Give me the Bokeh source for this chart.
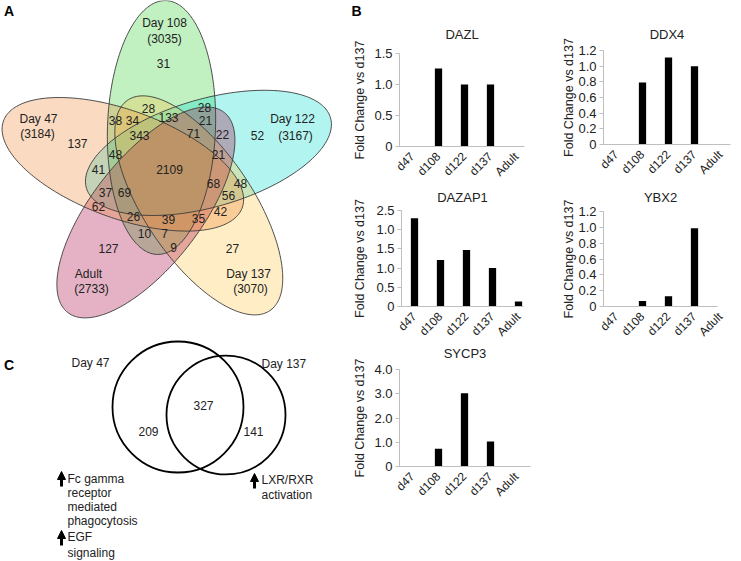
import math
import numpy as np
from bokeh.plotting import figure
from bokeh.layouts import row, column
from bokeh.models import Range1d, FixedTicker, NumeralTickFormatter, Arrow, NormalHead
from bokeh.embed import file_html
from bokeh.resources import INLINE
from bokeh.core.properties import value

FONT = "Liberation Sans"

# ---------------- data ----------------
# Panel A: five-set Venn. A=Day 47, B=Day 108, C=Day 122, D=Day 137, E=Adult
set_names = ["Day 47", "Day 108", "Day 122", "Day 137", "Adult"]
set_totals = [3184, 3035, 3167, 3070, 2733]
region_keys = ["A", "B", "C", "D", "E",
               "AB", "AC", "AD", "AE", "BC", "BD", "BE", "CD", "CE", "DE",
               "ABC", "ABD", "ABE", "ACD", "ACE", "ADE", "BCD", "BCE", "BDE", "CDE",
               "ABCD", "ABCE", "ABDE", "ACDE", "BCDE", "ABCDE"]
region_counts = [137, 31, 52, 27, 127,
                 38, 41, 42, 62, 28, 28, 10, 48, 22, 9,
                 48, 34, 26, 56, 37, 35, 133, 21, 7, 21,
                 343, 69, 39, 68, 71, 2109]

# Panel C: two-set Venn
venn2_names = ["Day 47", "Day 137"]
venn2_counts = [209, 327, 141]   # Day 47 only, both, Day 137 only
pathways_47 = [["Fc gamma", "receptor", "mediated", "phagocytosis"], ["EGF", "signaling"]]
pathways_137 = [["LXR/RXR", "activation"]]

# Panel B: fold change vs d137
stages = ["d47", "d108", "d122", "d137", "Adult"]
dazl = [0, 1.26, 1.0, 1.0, 0]
ddx4 = [0, 0.79, 1.11, 1.0, 0]
dazap1 = [2.3, 1.21, 1.47, 1.0, 0.13]
ybx2 = [0, 0.07, 0.13, 0.99, 0]
sycp3 = [0, 0.73, 3.02, 1.03, 0]
y_title = "Fold Change vs d137"

# ---------------- layout (pixel units) ----------------
VC = (167.0, 172.0)
V_OFF = (-6.0, -45.0)
V_A, V_B, V_TILT = 54.0, 127.0, 2.0
set_fill = ["#EE8633", "#32CD32", "#00DECD", "#FFC33E", "#A5003A"]
FILL_ALPHA = 0.3
draw_order = [1, 2, 3, 4, 0]   # Day 47 drawn last

region_pos = {
    "A": (77, 143), "B": (163, 63), "C": (257, 135), "D": (232, 248), "E": (108, 248),
    "AB": (115, 120), "AC": (98, 169), "AD": (220, 211), "AE": (98, 206), "BC": (204, 107),
    "BD": (148, 108), "BE": (144, 233), "CD": (240, 183), "CE": (222, 134), "DE": (173, 247),
    "ABC": (115, 154), "ABD": (132, 120), "ABE": (133, 216), "ACD": (228, 195), "ACE": (105, 192),
    "ADE": (198, 218), "BCD": (168, 117), "BCE": (205, 120), "BDE": (164, 233), "CDE": (218, 154),
    "ABCD": (139, 135), "ABCE": (124, 192), "ABDE": (168, 219), "ACDE": (213, 183), "BCDE": (193, 133),
    "ABCDE": (169, 169),
}
name_pos = [(38, 118), (164, 22), (292, 118), (248, 273), (88, 273)]
total_pos = [(37, 133), (164, 38), (295, 135), (250, 288), (91, 288)]


def rot(x, y, deg):
    t = math.radians(deg)
    return x * math.cos(t) - y * math.sin(t), x * math.sin(t) + y * math.cos(t)


W_VENN, H = 350, 561
venn = figure(width=W_VENN, height=H, x_range=Range1d(0, W_VENN), y_range=Range1d(H, 0),
              output_backend="svg", toolbar_location=None, min_border=0,
              x_axis_type=None, y_axis_type=None, outline_line_color=None)
venn.grid.visible = False

phi = np.linspace(0, 2 * math.pi, 240)
t = math.radians(V_TILT)
u0 = (math.sin(t), -math.cos(t))
v0 = (math.cos(t), math.sin(t))
shapes = []
for i in range(5):
    k = (i - 1) % 5
    ang = 72 * k
    ox, oy = rot(*V_OFF, ang)
    cx, cy = VC[0] + ox, VC[1] + oy
    ux, uy = rot(*u0, ang)
    vx, vy = rot(*v0, ang)
    xs = cx + V_B * np.cos(phi) * ux + V_A * np.sin(phi) * vx
    ys = cy + V_B * np.cos(phi) * uy + V_A * np.sin(phi) * vy
    shapes.append((xs, ys))
for i in draw_order:
    xs, ys = shapes[i]
    venn.patch(xs, ys, fill_color=set_fill[i], fill_alpha=FILL_ALPHA, line_color=None)
for xs, ys in shapes:
    venn.line(xs, ys, line_color="#3a3a3a", line_width=0.9)

txt = dict(text_font=value(FONT), text_font_size="12px", text_align="center",
           text_baseline="middle", text_color="#222222")
venn.text(x=[region_pos[k][0] for k in region_keys], y=[region_pos[k][1] for k in region_keys],
          text=[str(c) for c in region_counts], **txt)
venn.text(x=[p[0] for p in name_pos], y=[p[1] for p in name_pos], text=set_names, **txt)
venn.text(x=[p[0] for p in total_pos], y=[p[1] for p in total_pos],
          text=["(%d)" % v for v in set_totals], **txt)

letter = dict(text_font=value(FONT), text_font_size="14px", text_font_style="bold",
              text_align="center", text_baseline="middle", text_color="black")
venn.text(x=[8.5, 8.5], y=[10, 364], text=["A", "C"], **letter)

# Panel C circles
venn.ellipse(x=[177.5, 225.5], y=[406.5, 414.5], width=[131, 119], height=[131, 119],
             fill_color=None, line_color="black", line_width=1.8)
venn.text(x=[148, 203, 253], y=[431, 405, 431], text=[str(v) for v in venn2_counts], **txt)
venn.text(x=[71, 261], y=[362, 363], text=venn2_names, text_font=value(FONT), text_font_size="12px",
          text_align="left", text_baseline="middle", text_color="#222222")

blocks = [(67, 478, 14, pathways_47[0]), (67, 536, 16, pathways_47[1]), (261, 479, 15, pathways_137[0])]
for bx, by, dy, lines in blocks:
    venn.text(x=[bx] * len(lines), y=[by + j * dy for j in range(len(lines))], text=lines,
              text_font=value(FONT), text_font_size="12px", text_align="left",
              text_baseline="middle", text_color="#222222")
for ax, ay in [(61, 478), (61, 537), (254, 480)]:
    venn.add_layout(Arrow(x_start=ax, y_start=ay + 8, x_end=ax, y_end=ay - 7, line_width=3,
                          line_color="black",
                          end=NormalHead(size=8, fill_color="black", line_color="black", line_width=1)))


# ---------------- bar charts ----------------
PPC = 26.0   # pixels per category


def bar_fig(title, vals, ymax, ticks, box, axis_px, xend_px, top_px, bottom_px, title_py, ylab_px,
            extra=None):
    cl, ct, W, Hh = box

    def dx(px):
        return -0.5 + (px - axis_px) / PPC

    ky = ymax / float(bottom_px - top_px)

    def dy(py):
        return (bottom_px - py) * ky

    p = figure(width=W, height=Hh, output_backend="svg", toolbar_location=None,
               x_range=Range1d(dx(cl), dx(cl + W)), y_range=Range1d(dy(ct + Hh), dy(ct)),
               min_border=0)
    p.outline_line_color = None
    p.grid.visible = False
    p.vbar(x=list(range(len(stages))), top=vals, width=0.28, fill_color="black", line_color=None)

    xa = p.xaxis[0]
    xa.fixed_location = 0
    xa.bounds = (dx(axis_px), dx(xend_px))
    xa.ticker = FixedTicker(ticks=list(range(len(stages))))
    xa.major_label_overrides = {i: s for i, s in enumerate(stages)}
    xa.major_label_orientation = math.pi / 4
    xa.axis_line_color = "#BFBFBF"
    xa.major_tick_line_color = None
    xa.minor_tick_line_color = None
    xa.major_label_text_font = FONT
    xa.major_label_text_font_size = "12px"
    xa.major_label_text_color = "#222222"
    xa.major_label_standoff = 2

    ya = p.yaxis[0]
    ya.fixed_location = dx(axis_px)
    ya.bounds = (0, ymax)
    ya.ticker = FixedTicker(ticks=ticks)
    ya.formatter = NumeralTickFormatter(format="0.0")
    ov = {0: "0"}
    if extra:
        ov.update(extra)
    ya.major_label_overrides = ov
    ya.axis_line_color = "#BFBFBF"
    ya.major_tick_line_color = "#BFBFBF"
    ya.major_tick_out = 4
    ya.major_tick_in = 0
    ya.minor_tick_line_color = None
    ya.major_label_text_font = FONT
    ya.major_label_text_font_size = "13px"
    ya.major_label_text_color = "#222222"
    ya.major_label_standoff = 3

    p.text(x=[dx((axis_px + xend_px) / 2.0)], y=[dy(title_py)], text=[title],
           text_font=value(FONT), text_font_size="13px", text_align="center",
           text_baseline="middle", text_color="#222222")
    p.text(x=[dx(ylab_px)], y=[dy((top_px + bottom_px) / 2.0)], text=[y_title], angle=math.pi / 2,
           text_font=value(FONT), text_font_size="12.5px", text_align="center",
           text_baseline="middle", text_color="#222222")
    return p, dx, dy


t12 = [0, 0.2, 0.4, 0.6, 0.8, 1.0, 1.2]
p_dazl, dx1, dy1 = bar_fig("DAZL", dazl, 1.5, [0, 0.5, 1.0, 1.5], (350, 0, 195, 187),
                           399, 524, 53, 146, 34, 359)
p_ddx4, _, _ = bar_fig("DDX4", ddx4, 1.2, t12, (545, 0, 196, 187),
                       603, 730, 50, 144, 34, 568)
p_dazap1, _, _ = bar_fig("DAZAP1", dazap1, 2.5, [0, 0.5, 1.0, 1.5, 2.0, 2.5], (350, 187, 195, 160),
                         401, 523, 210, 306, 196.5, 359, extra={2: "1.0"})
p_ybx2, _, _ = bar_fig("YBX2", ybx2, 1.2, t12, (545, 187, 196, 160),
                       603, 717, 211, 306, 196.5, 568)
p_sycp3, _, _ = bar_fig("SYCP3", sycp3, 4.0, [0, 1.0, 2.0, 3.0, 4.0], (350, 347, 195, 214),
                        399, 530, 369, 466, 353, 359)

# panel letter B (lives in the DAZL canvas)
p_dazl.text(x=[dx1(356)], y=[dy1(10)], text=["B"], **letter)

layout = row(venn, column(row(p_dazl, p_ddx4), row(p_dazap1, p_ybx2), row(p_sycp3)))

open("out.html", "w").write(file_html(layout, INLINE))
